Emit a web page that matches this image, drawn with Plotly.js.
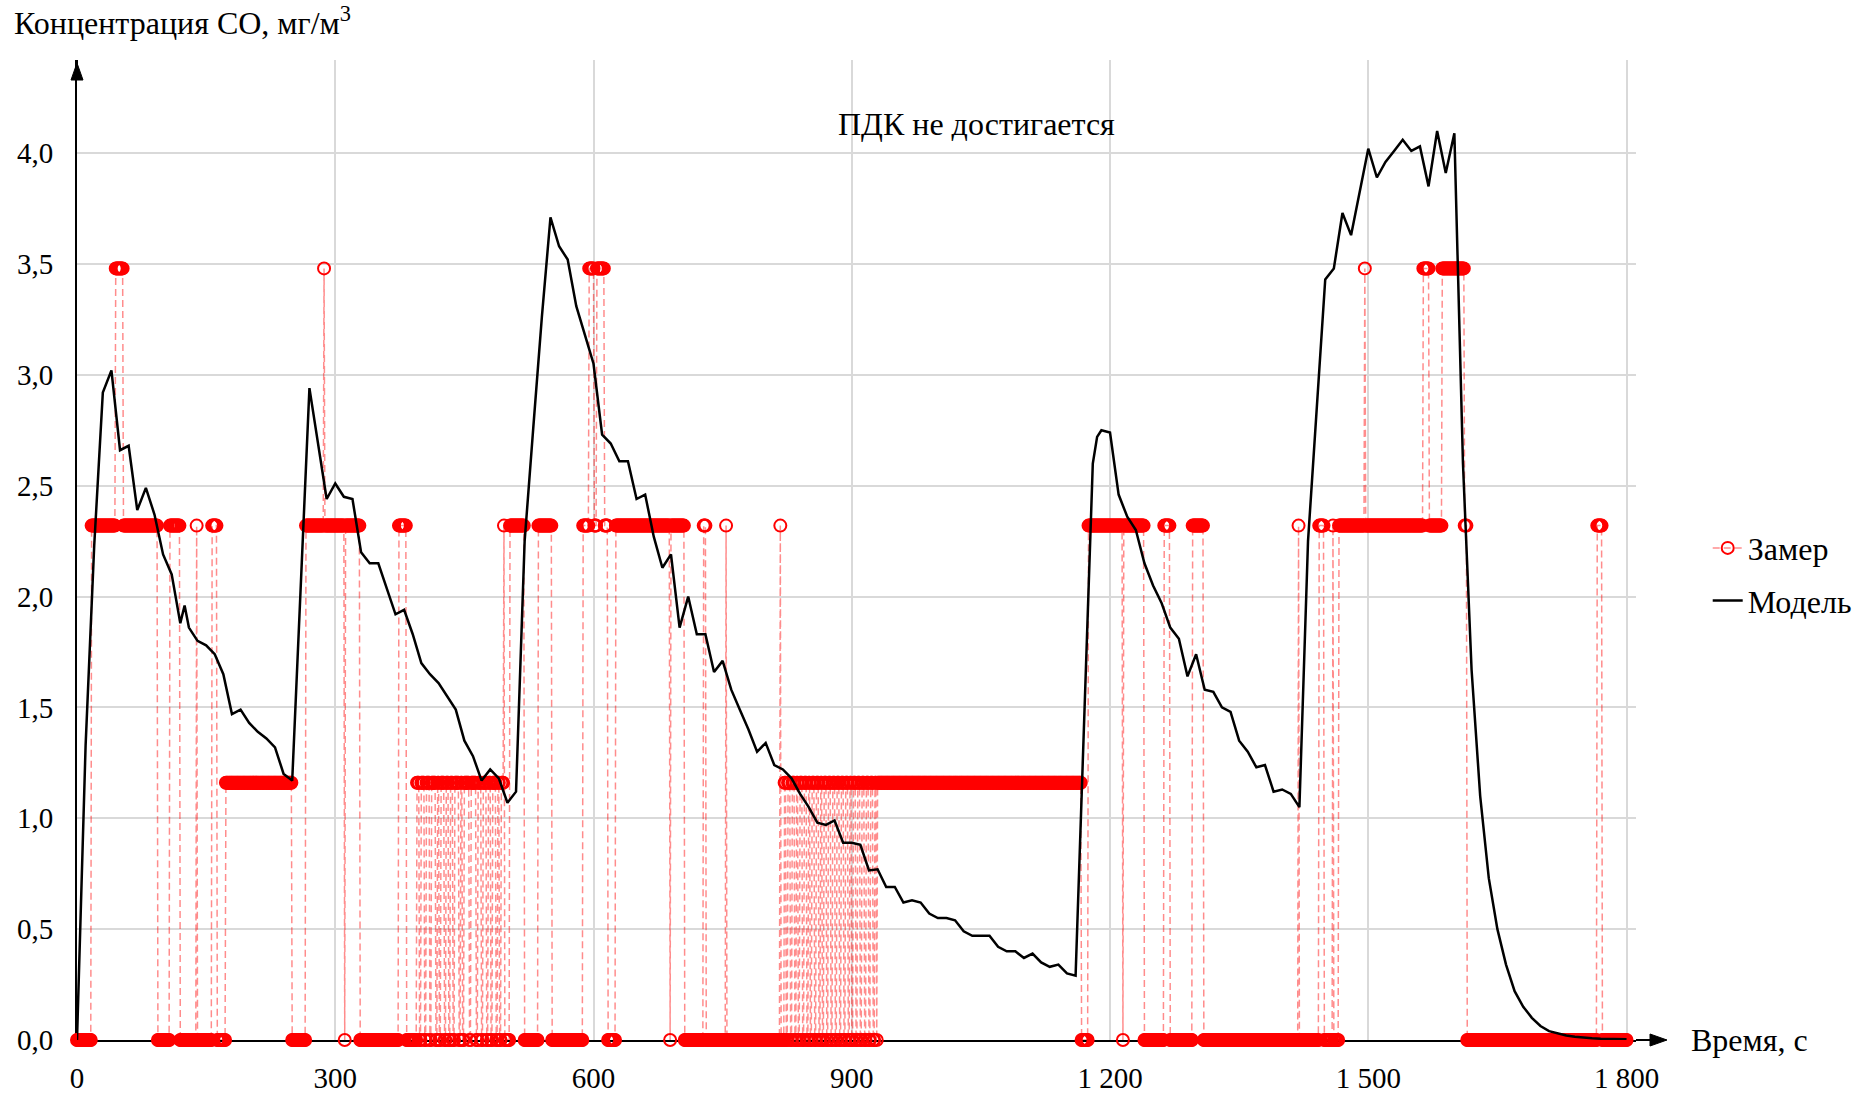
<!DOCTYPE html>
<html>
<head>
<meta charset="utf-8">
<script src="https://cdn.plot.ly/plotly-3.0.1.min.js"></script>
<style>html,body{margin:0;padding:0;background:#fff;}#chart{width:1874px;height:1096px;}</style>
</head>
<body>
<div id="chart"></div>
<script>
// ---- Data ----
// Model (black line): time, s and concentration, mg/m3
const modelT = [0,10,20,30,40,50,60,70,80,90,100,110,120,125,130,140,150,160,170,180,190,200,210,220,230,240,250,270,290,300,
  310,320,330,340,350,360,370,380,390,400,410,420,430,440,450,460,470,480,490,500,510,520,530,540,550,560,570,580,590,600,
  610,620,630,640,650,660,670,680,690,700,710,720,730,740,750,760,770,780,790,800,810,820,830,840,850,860,870,880,890,900,
  910,920,930,940,950,960,970,980,990,1000,1010,1020,1030,1040,1050,1060,1070,1080,1090,1100,1110,1120,1130,1140,1150,1160,
  1180,1185,1190,1200,1210,1220,1230,1240,1250,1260,1270,1280,1290,1300,1310,1320,1330,1340,1350,1360,1370,1380,1390,1400,
  1410,1420,1430,1440,1450,1460,1470,1480,1490,1500,1510,1520,1530,1540,1550,1560,1570,1580,1590,1600,1610,1620,1630,1640,
  1650,1660,1670,1680,1690,1700,1710,1720,1730,1740,1750,1760,1770,1780,1790,1800];
const modelV = [0,1.33,2.23,2.92,3.02,2.66,2.68,2.39,2.49,2.37,2.19,2.10,1.88,1.96,1.86,1.80,1.78,1.74,1.65,1.47,1.49,1.43,1.39,1.36,1.32,1.20,1.17,2.94,2.44,2.51,
  2.45,2.44,2.20,2.15,2.15,2.04,1.92,1.94,1.83,1.70,1.65,1.61,1.55,1.49,1.35,1.28,1.17,1.22,1.18,1.07,1.12,2.25,2.76,3.26,3.71,3.58,3.52,3.31,3.18,3.05,
  2.73,2.69,2.61,2.61,2.44,2.46,2.27,2.13,2.19,1.86,2.00,1.83,1.83,1.66,1.71,1.58,1.49,1.40,1.30,1.34,1.24,1.22,1.18,1.11,1.05,0.98,0.97,0.99,0.89,0.89,
  0.88,0.765,0.77,0.69,0.69,0.62,0.63,0.62,0.57,0.55,0.55,0.54,0.49,0.47,0.47,0.47,0.42,0.40,0.40,0.37,0.39,0.35,0.33,0.34,0.30,0.29,
  2.60,2.72,2.75,2.74,2.46,2.36,2.30,2.15,2.05,1.97,1.86,1.81,1.64,1.74,1.58,1.57,1.50,1.48,1.35,1.30,1.23,1.24,1.12,1.13,
  1.11,1.05,2.25,2.84,3.43,3.48,3.73,3.63,3.82,4.02,3.89,3.96,4.01,4.06,4.01,4.03,3.85,4.10,3.91,4.09,2.60,1.67,1.10,0.73,
  0.50,0.34,0.22,0.15,0.10,0.063,0.04,0.03,0.02,0.015,0.01,0.008,0.006,0.005,0.004,0.003];

// Measurement (red): sensor levels, mg/m3, and runs sampled every second
const levelValues = [0, 1.16, 2.32, 3.48];
const measRunStart = [0,17,45,54,94,108,120,139,140,157,163,173,250,266,287,288,311,312,329,374,383,
  395,398,400,404,406,410,412,417,419,421,423,427,429,432,434,437,439,444,446,448,450,456,458,464,466,470,472,476,478,481,483,487,489,491,493,
  496,497,503,520,536,552,588,595,601,604,613,617,626,689,690,706,728,731,754,755,817,818,
  822,824,826,829,831,834,836,838,840,843,845,848,850,852,854,857,859,862,864,866,868,871,873,876,878,881,883,886,888,891,893,896,898,900,902,905,907,910,912,915,917,920,922,925,927,929,
  930,1167,1175,1215,1216,1240,1263,1270,1296,1309,1419,1420,1443,1449,1459,1460,1466,1496,1497,1564,1571,1586,1612,1615,1766,1772];
const measRunLevel = [0,2,3,2,0,2,0,2,0,2,0,1,0,2,3,2,0,2,0,2,0,
  1,0,1,0,1,0,1,0,1,0,1,0,1,0,1,0,1,0,1,0,1,0,1,0,1,0,1,0,1,0,1,0,1,0,1,
  2,0,2,0,2,0,2,3,2,3,2,0,2,0,2,0,2,0,2,0,2,0,
  1,0,1,0,1,0,1,0,1,0,1,0,1,0,1,0,1,0,1,0,1,0,1,0,1,0,1,0,1,0,1,0,1,0,1,0,1,0,1,0,1,0,1,0,1,0,
  1,0,2,0,2,0,2,0,2,0,2,0,2,0,2,0,2,3,2,3,2,3,2,0,2,0];
const measEnd = 1800;

const xTickVals = [0,300,600,900,1200,1500,1800];
const xTickText = ['0','300','600','900','1 200','1 500','1 800'];
const yTickVals = [0,0.5,1,1.5,2,2.5,3,3.5,4];
const yTickText = ['0,0','0,5','1,0','1,5','2,0','2,5','3,0','3,5','4,0'];

// expand runs into the per-second record
const measT = [], measV = [];
for (let i = 0; i < measRunStart.length; i++) {
  const s = measRunStart[i];
  const e = (i + 1 < measRunStart.length) ? measRunStart[i + 1] - 1 : measEnd;
  for (let t = s; t <= e; t++) { measT.push(t); measV.push(levelValues[measRunLevel[i]]); }
}

const FONT = 'Liberation Serif, Times New Roman, serif';
const FS = 32;
const TFS = 29;

// plot area in pixels (for axis arrow decorations)
const W = 1874, H = 1096, ML = 77, MR = 238, MT = 60, MB = 56;
const PW = W - ML - MR, PH = H - MT - MB;
const px = v => v / PW, py = v => v / PH;
const xTip = 1 + px(31), yTip = 1 + py(-3);
const ahL = 17, ahW = 6;

const traces = [
  {
    x: measT, y: measV, name: 'Замер', type: 'scatter', mode: 'lines+markers',
    line: {color: 'rgba(255,0,0,0.45)', width: 1.5, dash: '7px,4px'},
    marker: {symbol: 'circle-open', size: 12, color: '#ff0000', line: {width: 2, color: '#ff0000'}},
    cliponaxis: false, legendgroup: 'a'
  },
  {
    x: modelT, y: modelV, name: 'Модель', type: 'scatter', mode: 'lines',
    line: {color: '#000000', width: 2.5}, cliponaxis: false, legendgroup: 'b'
  }
];

const layout = {
  width: W, height: H,
  margin: {l: ML, r: MR, t: MT, b: MB},
  paper_bgcolor: '#ffffff', plot_bgcolor: '#ffffff',
  font: {family: FONT, size: FS, color: '#000'},
  showlegend: true,
  legend: {x: 1.046, xanchor: 'left', y: 0.53, yanchor: 'top', font: {family: FONT, size: FS, color: '#000'},
           traceorder: 'grouped', tracegroupgap: 8, bgcolor: 'rgba(0,0,0,0)'},
  xaxis: {
    range: [0, 1811], tickvals: xTickVals, ticktext: xTickText,
    showgrid: true, gridcolor: '#d9d9d9', gridwidth: 2, zeroline: false,
    showline: true, linecolor: '#000', linewidth: 2, layer: 'below traces',
    ticks: 'outside', ticklen: 11, tickcolor: 'rgba(0,0,0,0)',
    tickfont: {family: FONT, size: TFS, color: '#000'}
  },
  yaxis: {
    range: [0, 4.42], tickvals: yTickVals, ticktext: yTickText,
    showgrid: true, gridcolor: '#d9d9d9', gridwidth: 2, zeroline: false,
    showline: true, linecolor: '#000', linewidth: 2, layer: 'below traces',
    ticks: 'outside', ticklen: 16, tickcolor: 'rgba(0,0,0,0)',
    tickfont: {family: FONT, size: TFS, color: '#000'}
  },
  shapes: [
    {type: 'line', xref: 'paper', yref: 'paper', x0: 1, x1: xTip - px(ahL - 2), y0: 0, y1: 0,
     line: {color: '#000', width: 2}},
    {type: 'path', xref: 'paper', yref: 'paper', fillcolor: '#000', line: {color: '#000', width: 1},
     path: `M ${xTip} 0 L ${xTip - px(ahL)} ${py(ahW)} L ${xTip - px(ahL)} ${-py(ahW)} Z`},
    {type: 'line', xref: 'paper', yref: 'paper', x0: 0, x1: 0, y0: 1, y1: yTip - py(ahL - 2),
     line: {color: '#000', width: 2}},
    {type: 'path', xref: 'paper', yref: 'paper', fillcolor: '#000', line: {color: '#000', width: 1},
     path: `M 0 ${yTip} L ${px(ahW)} ${yTip - py(ahL)} L ${-px(ahW)} ${yTip - py(ahL)} Z`}
  ],
  annotations: [
    {xref: 'paper', yref: 'paper', x: -0.042, y: 1.04, xanchor: 'left', yanchor: 'middle',
     text: 'Концентрация СО, мг/м<sup>3</sup>', showarrow: false, font: {family: FONT, size: FS, color: '#000'}},
    {xref: 'paper', yref: 'paper', x: 1.034, y: 0, xanchor: 'left', yanchor: 'middle',
     text: 'Время, с', showarrow: false, font: {family: FONT, size: FS, color: '#000'}},
    {xref: 'x', yref: 'y', x: 1045, y: 4.13, xanchor: 'center', yanchor: 'middle',
     text: 'ПДК не достигается', showarrow: false, font: {family: FONT, size: FS, color: '#000'}}
  ]
};

Plotly.newPlot('chart', traces, layout, {displayModeBar: false, staticPlot: true});
</script>
</body>
</html>
